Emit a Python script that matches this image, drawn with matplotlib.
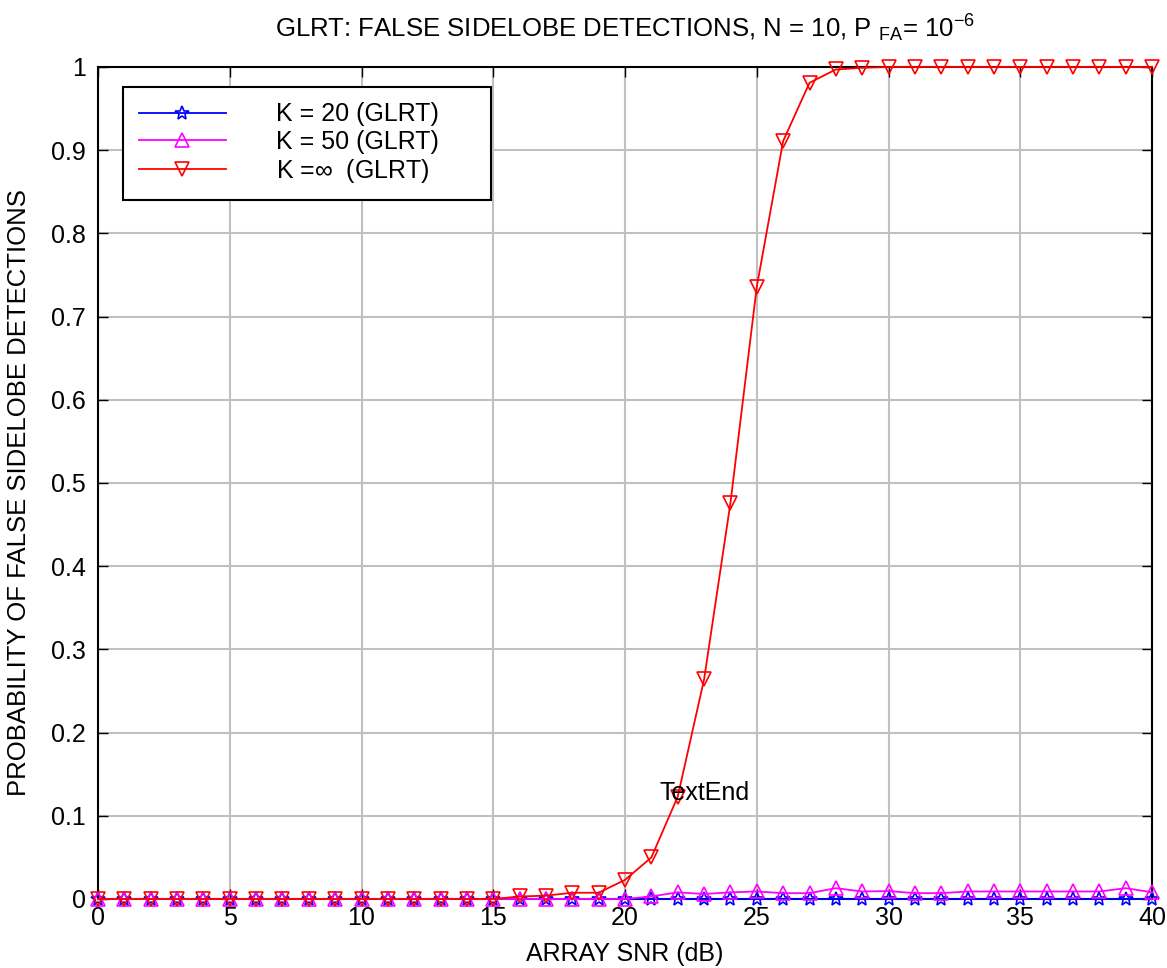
import matplotlib
matplotlib.use("Agg")
import matplotlib.pyplot as plt
import numpy as np

plt.rcParams['font.family'] = ['Liberation Sans', 'DejaVu Sans']
plt.rcParams['mathtext.fontset'] = 'custom'
plt.rcParams['mathtext.rm'] = 'Liberation Sans'
plt.rcParams['mathtext.it'] = 'Liberation Sans'

snr_db = list(range(0, 41))

p_k20 = [0.0] * 41

p_k50 = [0.0] * 21 + [0.003, 0.008, 0.006, 0.008, 0.009, 0.007, 0.007, 0.013, 0.009, 0.0095,
                      0.007, 0.007, 0.009, 0.009, 0.009, 0.009, 0.009, 0.009, 0.013, 0.008]

p_kinf = [0.0] * 16 + [0.003, 0.004, 0.0075, 0.0075, 0.023, 0.05, 0.123, 0.264, 0.476, 0.736,
                       0.911, 0.981, 0.997, 0.999, 1.0, 1.0, 1.0, 1.0, 1.0, 1.0,
                       1.0, 1.0, 1.0, 1.0, 1.0]

x_ticks = list(range(0, 41, 5))
y_ticks = [round(v * 0.1, 1) for v in range(0, 11)]
y_ticklabels = ["0", "0.1", "0.2", "0.3", "0.4", "0.5", "0.6", "0.7", "0.8", "0.9", "1"]

fig = plt.figure(figsize=(11.67, 9.68), dpi=100)
ax = fig.add_axes([0.0840, 0.0713, 0.9032, 0.8595])

fs = 18
lw = 1.3
ax.plot(snr_db, p_k20, color='blue', lw=lw, marker='*', ms=10, mfc='none', mew=1.2,
        label='K = 20 (GLRT)', clip_on=False, zorder=3)
ax.plot(snr_db, p_k50, color='magenta', lw=lw, marker='^', ms=10, mfc='none', mew=1.2,
        label='K = 50 (GLRT)', clip_on=False, zorder=4)
ax.plot(snr_db, p_kinf, color='red', lw=lw, marker='v', ms=10, mfc='none', mew=1.2,
        label=r'K =$\infty$  (GLRT)', clip_on=False, zorder=5)

ax.set_xlim(0, 40)
ax.set_ylim(0, 1)
ax.set_xticks(x_ticks)
ax.set_yticks(y_ticks)
ax.set_yticklabels(y_ticklabels)
ax.grid(True, color='#c0c0c0', lw=1.5)
ax.set_axisbelow(True)
ax.tick_params(direction='in', length=7, width=1.0, top=True, right=True,
               labelsize=fs, colors='black')
ax.tick_params(axis='y', pad=9)
ax.tick_params(axis='x', pad=5)
for s in ax.spines.values():
    s.set_linewidth(1.5)
    s.set_color('black')

ax.set_xlabel('ARRAY SNR (dB)', fontsize=fs, labelpad=9)
ax.set_ylabel('PROBABILITY OF FALSE SIDELOBE DETECTIONS', fontsize=18.5)
ax.yaxis.set_label_coords(-0.064, 0.488)
ax.set_title(r'GLRT: FALSE SIDELOBE DETECTIONS, N = 10, P $_{\mathrm{FA}}$= 10$^{-6}$',
             fontsize=18.5, pad=21)

ax.text(21.3, 0.119, 'TextEnd', fontsize=fs, ha='left', va='baseline', zorder=6)

leg_w = 368 / 1054
leg_h = 110 / 832
leg = ax.legend(loc='upper left', bbox_to_anchor=(0.0237, 0.976 - leg_h, leg_w, leg_h),
                mode='expand', fontsize=fs,
                frameon=True, fancybox=False, edgecolor='black', framealpha=1,
                handlelength=3.5, handletextpad=2.0, borderpad=0.62, labelspacing=0.13,
                borderaxespad=0)
leg.get_frame().set_linewidth(1.5)

fig.savefig('out.png', dpi=100)
